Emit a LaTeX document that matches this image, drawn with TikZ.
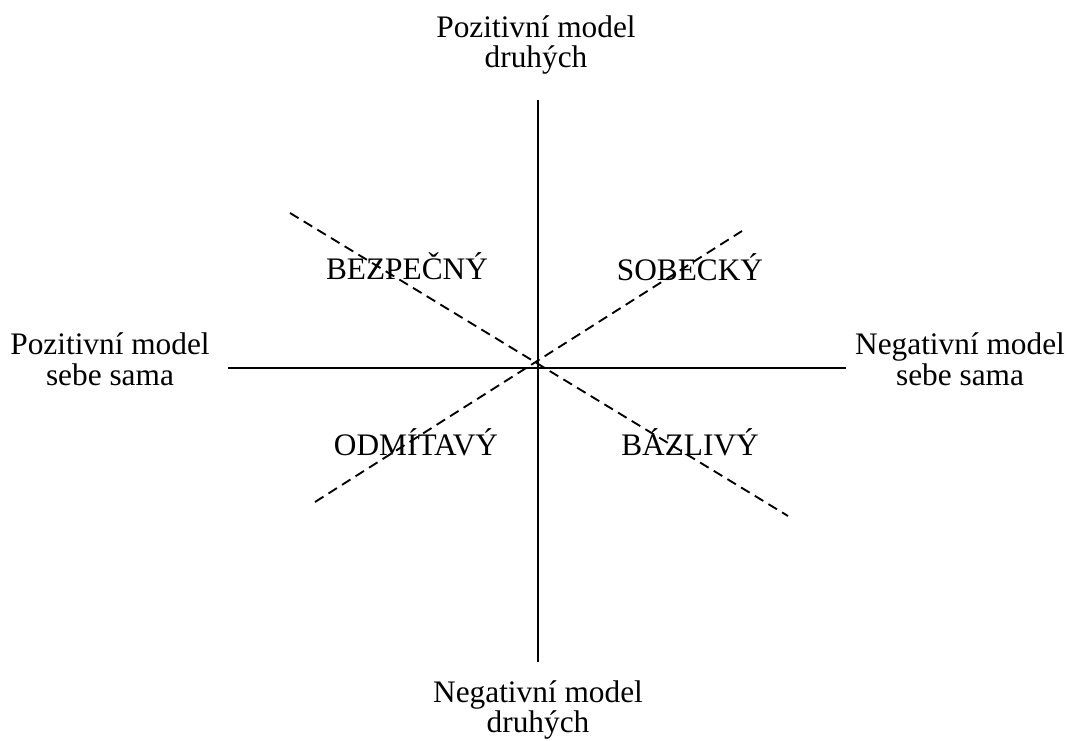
\documentclass[tikz,border=0pt]{standalone}
\usepackage{fontspec}
\setmainfont{Liberation Serif}
\usetikzlibrary{positioning}

\begin{document}
\begin{tikzpicture}[
    x=0.75pt, y=-0.75pt,
    axis/.style={line width=1.2pt},
    diagonal/.style={line width=1.4pt, dash pattern=on 7.5pt off 4.5pt},
    pole/.style={font=\fontsize{23.5}{23}\selectfont, align=center, inner sep=0pt},
    style label/.style={font=\fontsize{23.5}{23}\selectfont, anchor=base, inner sep=0pt}
]
\useasboundingbox (0,0) rectangle (1071,740);

% -------------------------
% AXIS ENDS
% -------------------------
\coordinate (Top) at (538,100);
\coordinate (Bottom) at (538,662);
\coordinate (Left) at (228,368);
\coordinate (Right) at (846,368);

\coordinate (SecureEnd) at (290,213);
\coordinate (FearfulEnd) at (788,516);
\coordinate (DismissEnd) at (315,502);
\coordinate (SelfishEnd) at (742,231);

% -------------------------
% POLE LABELS
% -------------------------
\node[pole] (PosOthers) at (536,45) {Pozitivní model\\druhých};
\node[pole] (NegOthers) at (538,710) {Negativní model\\druhých};
\node[pole] (PosSelf) at (110,359) {Pozitivní model\\sebe sama};
\node[pole] (NegSelf) at (960,359) {Negativní model\\sebe sama};

% -------------------------
% AXES
% -------------------------
\draw[axis] (Top) -- (Bottom);
\draw[axis] (Left) -- (Right);

% Dashed diagonals through the centre
\draw[diagonal] (SecureEnd) -- (FearfulEnd);
\draw[diagonal] (DismissEnd) -- (SelfishEnd);

% -------------------------
% QUADRANT LABELS
% -------------------------
\node[style label] (Secure) at (407,279) {BEZPEČNÝ};
\node[style label] (Selfish) at (690,280) {SOBECKÝ};
\node[style label] (Dismissing) at (416,455) {ODMÍTAVÝ};
\node[style label] (Fearful) at (690,455) {BÁZLIVÝ};

\end{tikzpicture}
\end{document}
